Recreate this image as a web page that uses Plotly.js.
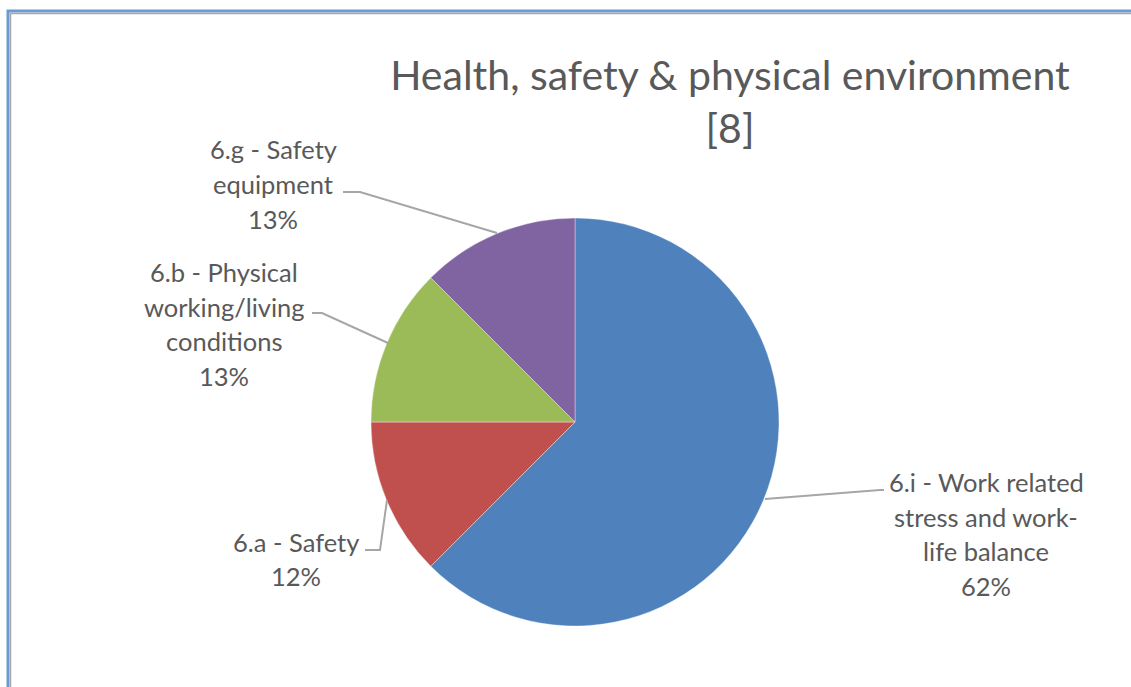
<!DOCTYPE html>
<html>
<head>
<meta charset="utf-8">
<script src="https://cdn.plot.ly/plotly-3.0.1.min.js"></script>
<style>html,body{margin:0;padding:0;background:#fff;}#chart{width:1131px;height:687px;}</style>
</head>
<body>
<div id="chart"></div>
<script>
// Data
const categories = [
  "6.i - Work related<br>stress and work-<br>life balance",
  "6.a - Safety",
  "6.b - Physical<br>working/living<br>conditions",
  "6.g - Safety<br>equipment"
];
const responses = [5, 1, 1, 1];
const percentLabels = ["62%", "12%", "13%", "13%"];
const sliceColors = ["#4F81BD", "#C0504D", "#9BBB59", "#8064A2"];
const chartTitle = "Health, safety & physical environment<br>[8]";

const W = 1131, H = 687;
const px = x => x / W;
const py = y => 1 - y / H;

// label block centres (pixels) and leader line paths (pixels)
const labelPos = [
  {x: 986, y: 534},
  {x: 296, y: 559},
  {x: 224, y: 324},
  {x: 273, y: 184}
];
const leaders = [
  [[765, 499], [880, 490], [884, 490]],
  [[365, 550], [380, 550], [387, 500]],
  [[312, 313], [322, 313], [388, 343]],
  [[343, 192], [360, 192], [497, 233]]
];

const fontFam = "Lato, 'Open Sans', sans-serif";
const textColor = "#595959";
const lineSpacing = 34.5;

const annotations = [];
categories.forEach((c, i) => {
  const lines = c.split("<br>").concat([percentLabels[i]]);
  const n = lines.length;
  lines.forEach((ln, j) => {
    annotations.push({
      xref: "paper", yref: "paper",
      x: px(labelPos[i].x),
      y: py(labelPos[i].y + (j - (n - 1) / 2) * lineSpacing),
      text: ln, showarrow: false,
      xanchor: "center", yanchor: "middle",
      font: {family: fontFam, size: 25.5, color: textColor}
    });
  });
});

const shapes = [];
leaders.forEach(pts => {
  const d = pts.map((p, k) => (k === 0 ? "M" : "L") + " " + px(p[0]) + " " + py(p[1])).join(" ");
  shapes.push({type: "path", xref: "paper", yref: "paper", path: d,
    line: {color: "#A6A6A6", width: 2}});
});
// chart frame (top & left)
shapes.push({type: "path", xref: "paper", yref: "paper",
  path: `M ${px(8)} 0 L ${px(8)} ${py(11)} L 1 ${py(11)}`,
  line: {color: "#6A9BD2", width: 3}});
shapes.push({type: "path", xref: "paper", yref: "paper",
  path: `M ${px(10.5)} 0 L ${px(10.5)} ${py(13.5)} L 1 ${py(13.5)}`,
  line: {color: "#A8A8A8", width: 1.5}});

const data = [{
  type: "pie",
  values: responses,
  labels: categories,
  sort: false,
  direction: "clockwise",
  rotation: 0,
  textinfo: "none",
  hoverinfo: "none",
  marker: {colors: sliceColors, line: {color: "rgba(255,255,255,0.6)", width: 0.6}},
  domain: {x: [px(371), px(779)], y: [py(626), py(218)]},
  showlegend: false
}];

const layout = {
  width: W, height: H,
  margin: {l: 0, r: 0, t: 0, b: 0},
  paper_bgcolor: "#ffffff",
  title: {
    text: chartTitle,
    x: px(730), xanchor: "center",
    y: py(90), yanchor: "middle",
    xref: "paper", yref: "paper",
    font: {family: fontFam, size: 41, color: textColor}
  },
  annotations: annotations,
  shapes: shapes
};

Plotly.newPlot("chart", data, layout, {displayModeBar: false, staticPlot: true});
</script>
</body>
</html>
